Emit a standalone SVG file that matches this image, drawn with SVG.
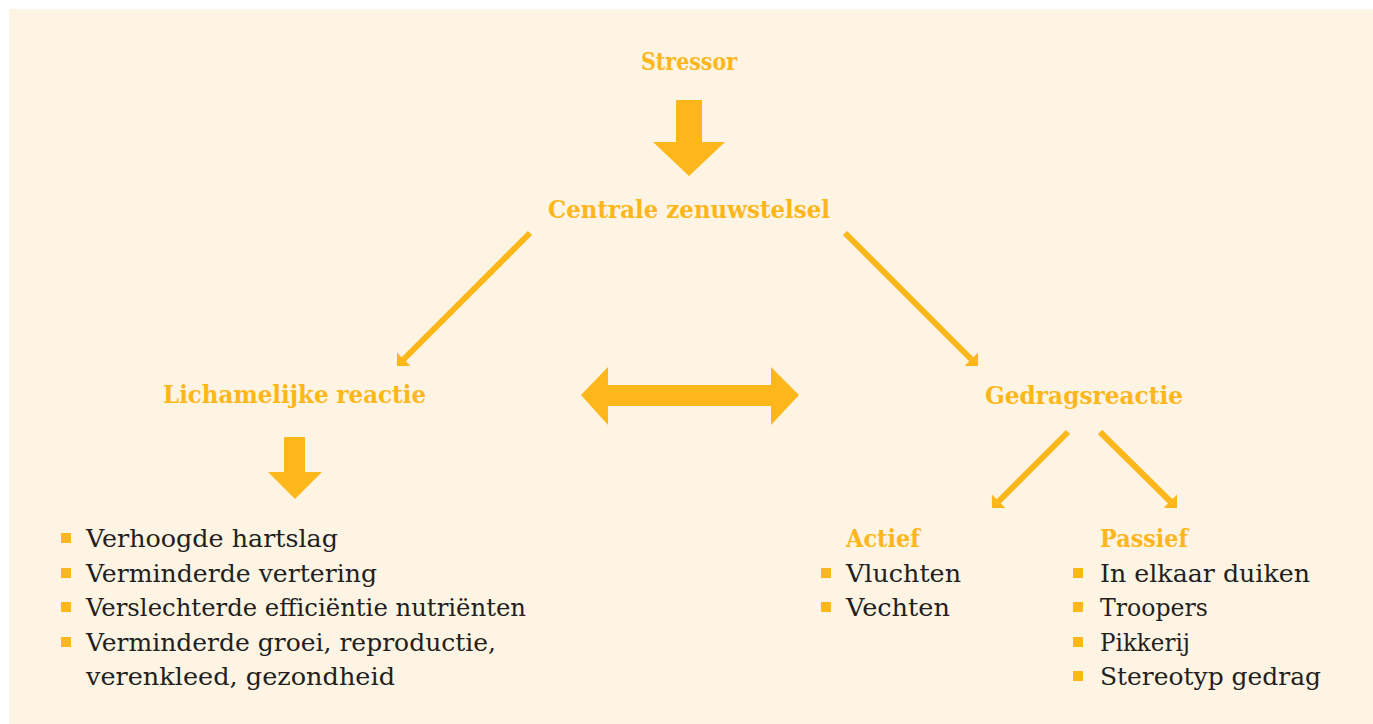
<svg xmlns="http://www.w3.org/2000/svg" width="1373" height="724" viewBox="0 0 1373 724">
<style>
.lbl{font-family:"DejaVu Serif","Liberation Serif",serif;font-weight:bold;font-size:24px;fill:#FDB71A}
.txt{font-family:"DejaVu Serif","Liberation Serif",serif;font-size:25px;fill:#231F20}
.blt{fill:#FDB71A}
.big{fill:#FDB71A}
.thin{stroke:#FDB71A;stroke-width:6;fill:none;marker-end:url(#head)}
</style>
<defs>
<marker id="head" markerUnits="userSpaceOnUse" markerWidth="30" markerHeight="30" viewBox="-15 -15 30 30" refX="0" refY="0" orient="auto">
<path d="M5,0 L-4.5,-9.5 L-4.5,9.5 Z" fill="#FDB71A"/>
</marker>
</defs>
<rect x="0" y="0" width="1373" height="724" fill="#FFFFFF"/>
<rect x="9" y="9" width="1364" height="715" fill="#FEF4E4"/>
<g id="connectors">
<polygon class="big" points="676,100 702,100 702,142 725,142 689,176 653,142 676,142"/>
<polygon class="big" points="284,437 305,437 305,472 322,472 295,499 268,472 284,472"/>
<polygon class="big" points="581,395 608,367 608,385 771,385 771,367 799,395 771,425 771,406 608,406 608,425"/>
<line class="thin" x1="530" y1="233" x2="400.5" y2="362.5"/>
<line class="thin" x1="845" y1="233" x2="974.5" y2="362.5"/>
<line class="thin" x1="1068" y1="432" x2="995.5" y2="504.5"/>
<line class="thin" x1="1100" y1="432" x2="1173.5" y2="504.5"/>
</g>
<g id="stressor"><text class="lbl" x="641" y="70" textLength="96" lengthAdjust="spacingAndGlyphs">Stressor</text></g>
<g id="czs"><text class="lbl" x="548" y="218" textLength="282" lengthAdjust="spacingAndGlyphs">Centrale zenuwstelsel</text></g>
<g id="lichamelijk"><text class="lbl" x="163" y="403" textLength="263" lengthAdjust="spacingAndGlyphs">Lichamelijke reactie</text></g>
<g id="gedrag"><text class="lbl" x="985" y="404" textLength="198" lengthAdjust="spacingAndGlyphs">Gedragsreactie</text></g>
<g id="lichamelijk-lijst">
<rect class="blt" x="61" y="533" width="10" height="10"/>
<rect class="blt" x="61" y="568" width="10" height="10"/>
<rect class="blt" x="61" y="602" width="10" height="10"/>
<rect class="blt" x="61" y="637" width="10" height="10"/>
<text class="txt" x="86" y="547" textLength="252" lengthAdjust="spacingAndGlyphs">Verhoogde hartslag</text>
<text class="txt" x="86" y="582" textLength="291" lengthAdjust="spacingAndGlyphs">Verminderde vertering</text>
<text class="txt" x="86" y="616" textLength="440" lengthAdjust="spacingAndGlyphs">Verslechterde efficiëntie nutriënten</text>
<text class="txt" x="86" y="651" textLength="410" lengthAdjust="spacingAndGlyphs">Verminderde groei, reproductie,</text>
<text class="txt" x="86" y="685" textLength="309" lengthAdjust="spacingAndGlyphs">verenkleed, gezondheid</text>
</g>
<g id="actief">
<text class="lbl" x="846" y="547" textLength="74" lengthAdjust="spacingAndGlyphs">Actief</text>
<rect class="blt" x="821" y="568" width="10" height="10"/>
<rect class="blt" x="821" y="602" width="10" height="10"/>
<text class="txt" x="846" y="582" textLength="115" lengthAdjust="spacingAndGlyphs">Vluchten</text>
<text class="txt" x="846" y="616" textLength="104" lengthAdjust="spacingAndGlyphs">Vechten</text>
</g>
<g id="passief">
<text class="lbl" x="1100" y="547" textLength="88" lengthAdjust="spacingAndGlyphs">Passief</text>
<rect class="blt" x="1073" y="568" width="10" height="10"/>
<rect class="blt" x="1073" y="602" width="10" height="10"/>
<rect class="blt" x="1073" y="637" width="10" height="10"/>
<rect class="blt" x="1073" y="671" width="10" height="10"/>
<text class="txt" x="1100" y="582" textLength="210" lengthAdjust="spacingAndGlyphs">In elkaar duiken</text>
<text class="txt" x="1100" y="616" textLength="108" lengthAdjust="spacingAndGlyphs">Troopers</text>
<text class="txt" x="1100" y="651" textLength="90" lengthAdjust="spacingAndGlyphs">Pikkerij</text>
<text class="txt" x="1100" y="685" textLength="221" lengthAdjust="spacingAndGlyphs">Stereotyp gedrag</text>
</g>
</svg>
